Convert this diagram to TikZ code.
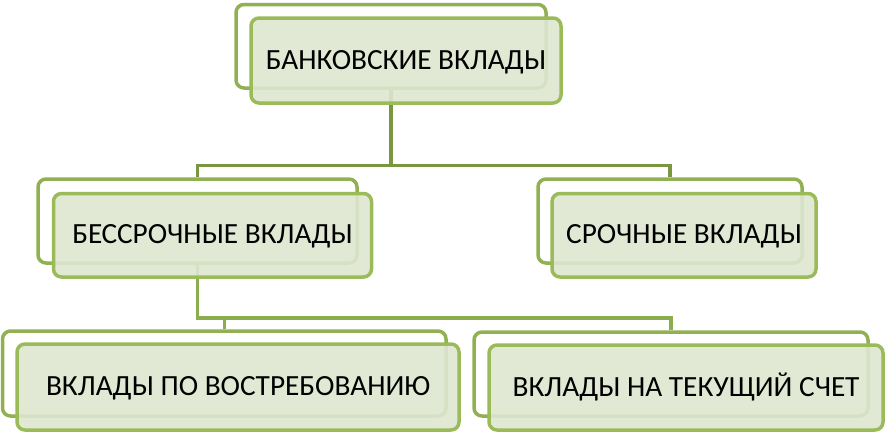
\documentclass[tikz,border=0pt]{standalone}
\usepackage{fontspec}
\setmainfont{Carlito}
\definecolor{bordgreen}{RGB}{155,187,89}
\definecolor{backgreen}{RGB}{145,176,82}
\definecolor{fillgreen}{RGB}{222,231,208}
\definecolor{linkdark}{RGB}{122,150,64}
\definecolor{linklight}{RGB}{140,172,80}
\begin{document}
\begin{tikzpicture}[x=1pt,y=-1pt,
  backbox/.style={draw=backgreen, line width=3.5pt, rounded corners=8pt, fill=white, inner sep=0pt},
  frontbox/.style={draw=bordgreen, line width=3.5pt, rounded corners=8pt, fill=fillgreen, fill opacity=0.9, text opacity=1, inner sep=0pt, text height=19pt, text depth=2pt, font=\fontsize{29.3}{34}\selectfont, text=black},
  linktop/.style={draw=linkdark, line width=3.5pt},
  linkbot/.style={draw=linklight, line width=3.5pt}]
\useasboundingbox (0,0) rectangle (888,434);
% back boxes
\node[backbox, minimum width=310pt, minimum height=83.5pt] (B1) at (391,46.25) {};
\node[backbox, minimum width=319pt, minimum height=84pt] (B2) at (197.5,221) {};
\node[backbox, minimum width=264pt, minimum height=84pt] (B3) at (670,221) {};
\node[backbox, minimum width=443.5pt, minimum height=85pt] (B4) at (224.25,373.5) {};
\node[backbox, minimum width=394pt, minimum height=84pt] (B5) at (671,374) {};
% connectors
\coordinate (j1) at (391,165.5);
\coordinate (j2) at (197.5,318);
\draw[linktop] (B1.south) -- (j1);
\draw[linktop] (B2.north) |- (j1) -| (B3.north);
\draw[linkbot] (B2.south) -- (j2) -| (B4.north);
\draw[linkbot] (j2) -| (B5.north);
% front boxes
\node[frontbox, minimum width=310pt, minimum height=85pt] (F1) at (406,60.5) {БАНКОВСКИЕ ВКЛАДЫ};
\node[frontbox, minimum width=318pt, minimum height=83.5pt] (F2) at (212.5,235.25) {БЕССРОЧНЫЕ ВКЛАДЫ};
\node[frontbox, minimum width=264pt, minimum height=83.5pt] (F3) at (684,235.25) {СРОЧНЫЕ ВКЛАДЫ};
\node[frontbox, minimum width=442pt, minimum height=86pt] (F4) at (238,387) {ВКЛАДЫ ПО ВОСТРЕБОВАНИЮ};
\node[frontbox, minimum width=394pt, minimum height=85pt] (F5) at (686,387.5) {ВКЛАДЫ НА ТЕКУЩИЙ СЧЕТ};
\end{tikzpicture}
\end{document}
